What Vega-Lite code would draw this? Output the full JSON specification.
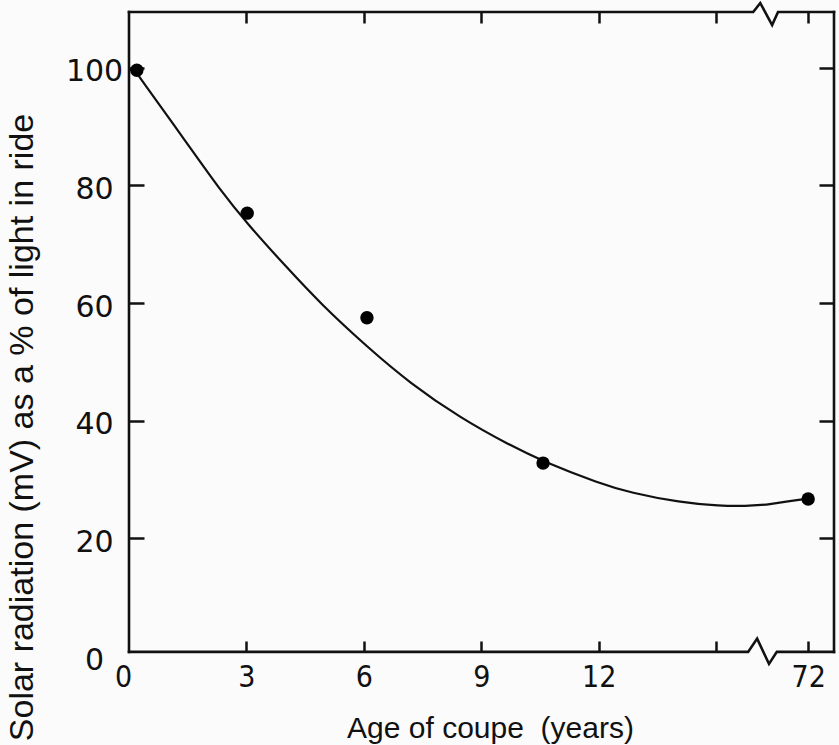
{
  "$schema": "https://vega.github.io/schema/vega-lite/v6.json",
  "width": 705,
  "height": 640,
  "autosize": {"type": "none"},
  "padding": {"left": 129, "top": 12, "right": 5, "bottom": 93},
  "background": "#fbfbfb",
  "config": {"view": {"stroke": null}},
  "datasets": {
    "frame": [
      {"grp": "b", "ord": 1, "age": 0, "v": 0.7},
      {"grp": "b", "ord": 2, "age": 15.82, "v": 0.7},
      {"grp": "b", "ord": 3, "age": 16.05, "v": 2.96},
      {"grp": "b", "ord": 4, "age": 71.0, "v": -1.35},
      {"grp": "b", "ord": 5, "age": 71.2, "v": 0.7},
      {"grp": "b", "ord": 6, "age": 72.66, "v": 0.7},
      {"grp": "t", "ord": 1, "age": 0, "v": 109.5},
      {"grp": "t", "ord": 2, "age": 15.95, "v": 109.5},
      {"grp": "t", "ord": 3, "age": 16.13, "v": 111.03},
      {"grp": "t", "ord": 4, "age": 71.08, "v": 107.29},
      {"grp": "t", "ord": 5, "age": 71.23, "v": 109.5},
      {"grp": "t", "ord": 6, "age": 72.66, "v": 109.5},
      {"grp": "l", "ord": 1, "age": 0, "v": 0.7},
      {"grp": "l", "ord": 2, "age": 0, "v": 109.5},
      {"grp": "r", "ord": 1, "age": 72.66, "v": 0.7},
      {"grp": "r", "ord": 2, "age": 72.66, "v": 109.5}
    ],
    "curve": [
      {"age": 0.23, "v": 98.8},
      {"age": 1.48, "v": 87.2},
      {"age": 2.33, "v": 79.2},
      {"age": 3.02, "v": 73.5},
      {"age": 4.04, "v": 66.0},
      {"age": 4.88, "v": 60.0},
      {"age": 6.11, "v": 52.4},
      {"age": 7.18, "v": 46.4},
      {"age": 8.46, "v": 40.5},
      {"age": 9.74, "v": 35.8},
      {"age": 10.58, "v": 33.1},
      {"age": 12.04, "v": 29.3},
      {"age": 12.8, "v": 27.8},
      {"age": 14.08, "v": 26.1},
      {"age": 15.1, "v": 25.5},
      {"age": 15.79, "v": 25.5},
      {"age": 16.2, "v": 25.7},
      {"age": 71.0, "v": 25.8},
      {"age": 71.28, "v": 26.1},
      {"age": 72.02, "v": 26.8}
    ],
    "obs": [
      {"age": 0.2, "v": 99.6},
      {"age": 3.02, "v": 75.3},
      {"age": 6.08, "v": 57.5},
      {"age": 10.58, "v": 32.8},
      {"age": 72, "v": 26.7}
    ]
  },
  "resolve": {"axis": {"x": "independent", "y": "independent"}},
  "layer": [
    {
      "data": {"name": "frame"},
      "mark": {"type": "line", "color": "#111", "strokeWidth": 2.6, "strokeCap": "square"},
      "encoding": {
        "x": {
          "field": "age", "type": "quantitative",
          "scale": {"type": "linear", "domain": [0, 16.2, 71, 72.66], "range": [0, 634, 640, 705], "nice": false, "zero": false},
          "axis": {
            "orient": "bottom",
            "values": [0, 3, 6, 9, 12, 15, 72],
            "labelExpr": "datum.value == 15 ? '' : datum.label",
            "domain": false, "grid": false, "ticks": false, "tickSize": 0,
            "labelFont": "DejaVu Sans Condensed, Liberation Sans", "labelFontSize": 30, "labelColor": "#111",
            "labelPadding": 10, "labelBaseline": "top",
            "labelOffset": {"condition": {"test": "datum.value == 0", "value": -6}, "value": 0},
            "labelFlush": false, "labelOverlap": false,
            "title": "Age of coupe\u00a0 (years)",
            "titleFont": "Liberation Sans", "titleFontSize": 30, "titleFontWeight": "normal", "titleColor": "#111",
            "titleX": 361, "titleY": 85, "titleBaseline": "alphabetic", "titleAlign": "center"
          }
        },
        "y": {
          "field": "v", "type": "quantitative",
          "scale": {"type": "linear", "domain": [0, 109.5], "range": [644, 0], "nice": false, "zero": false},
          "axis": {
            "orient": "left",
            "values": [0, 20, 40, 60, 80, 100],
            "domain": false, "grid": false, "ticks": false, "tickSize": 0,
            "labelFont": "DejaVu Sans", "labelFontSize": 30, "labelColor": "#111",
            "labelAlign": "center", "labelBaseline": "middle", "labelPadding": 35, "labelOffset": 4,
            "labelFlush": false, "labelOverlap": false,
            "title": "Solar radiation (mV) as a % of light in ride",
            "titleFont": "Liberation Sans", "titleFontSize": 34, "titleFontWeight": "normal", "titleColor": "#111",
            "titleAngle": 270, "titleX": -107, "titleY": 415, "titleBaseline": "middle", "titleAlign": "center"
          }
        },
        "detail": {"field": "grp"},
        "order": {"field": "ord", "type": "quantitative"}
      }
    },
    {
      "data": {"name": "curve"},
      "mark": {"type": "line", "color": "#111", "strokeWidth": 2.2, "interpolate": "basis"},
      "encoding": {
        "x": {
          "field": "age", "type": "quantitative",
          "scale": {"type": "linear", "domain": [0, 16.2, 71, 72.66], "range": [0, 634, 640, 705], "nice": false, "zero": false},
          "axis": {
            "orient": "top", "offset": -640,
            "values": [3, 6, 9, 12, 15, 72],
            "labels": false, "domain": false, "grid": false,
            "tickSize": 11, "tickWidth": 2.5, "tickColor": "#111",
            "title": null
          }
        },
        "y": {
          "field": "v", "type": "quantitative",
          "scale": {"type": "linear", "domain": [0, 109.5], "range": [644, 0], "nice": false, "zero": false},
          "axis": {
            "orient": "right", "offset": -705,
            "values": [20, 40, 60, 80, 100],
            "labels": false, "domain": false, "grid": false,
            "tickSize": 15, "tickWidth": 2.5, "tickColor": "#111",
            "title": null
          }
        }
      }
    },
    {
      "data": {"name": "obs"},
      "mark": {"type": "point", "filled": true, "color": "#000", "opacity": 1, "size": 180},
      "encoding": {
        "x": {
          "field": "age", "type": "quantitative",
          "scale": {"type": "linear", "domain": [0, 16.2, 71, 72.66], "range": [0, 634, 640, 705], "nice": false, "zero": false},
          "axis": {
            "orient": "bottom", "offset": -640,
            "values": [3, 6, 9, 12, 15, 72],
            "labels": false, "domain": false, "grid": false,
            "tickSize": 11, "tickWidth": 2.5, "tickColor": "#111",
            "title": null
          }
        },
        "y": {
          "field": "v", "type": "quantitative",
          "scale": {"type": "linear", "domain": [0, 109.5], "range": [644, 0], "nice": false, "zero": false},
          "axis": {
            "orient": "left", "offset": -705,
            "values": [20, 40, 60, 80, 100],
            "labels": false, "domain": false, "grid": false,
            "tickSize": 15, "tickWidth": 2.5, "tickColor": "#111",
            "title": null
          }
        }
      }
    }
  ]
}
